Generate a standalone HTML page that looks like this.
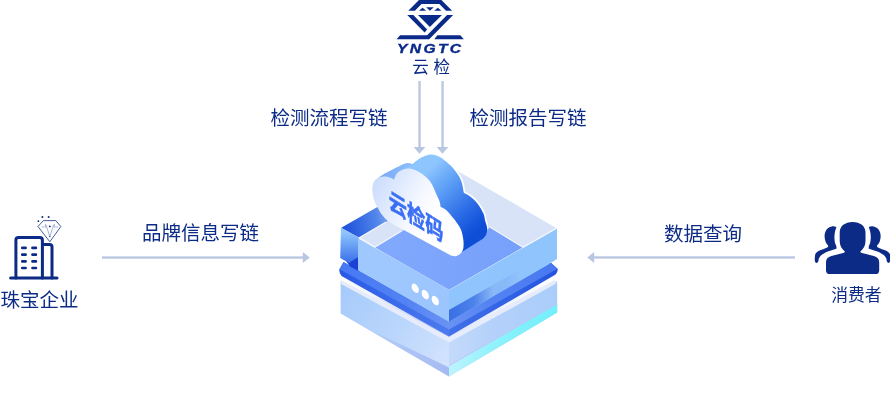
<!DOCTYPE html>
<html lang="zh-CN">
<head>
<meta charset="utf-8">
<title>云检码</title>
<style>
html,body{margin:0;padding:0;background:#fff;}
body{width:890px;height:412px;overflow:hidden;position:relative;font-family:"Liberation Sans","Noto Sans CJK SC",sans-serif;}
svg{position:absolute;left:0;top:0;display:block;will-change:transform;}
.t{fill:#0b2b86;font-family:"Liberation Sans","Noto Sans CJK SC",sans-serif;font-size:19.5px;}
</style>
</head>
<body>
<svg width="890" height="412" viewBox="0 0 890 412">
<defs>
<linearGradient id="gSide" gradientUnits="userSpaceOnUse" x1="430" y1="165" x2="485" y2="225">
<stop offset="0.03" stop-color="#8dc5ff"/><stop offset="0.2" stop-color="#70aef9"/><stop offset="0.33" stop-color="#5d9ff6"/><stop offset="0.5" stop-color="#4687ef"/><stop offset="0.72" stop-color="#2a6ae6"/><stop offset="0.9" stop-color="#1656dc"/><stop offset="1" stop-color="#0e4dd6"/>
</linearGradient>
<linearGradient id="gSideL" gradientUnits="userSpaceOnUse" x1="375" y1="183" x2="410" y2="165">
<stop offset="0" stop-color="#78a6f7"/><stop offset="1" stop-color="#8dbdfb"/>
</linearGradient>
<linearGradient id="gFace" gradientUnits="userSpaceOnUse" x1="372" y1="190" x2="455" y2="235">
<stop offset="0" stop-color="#cdddfc"/><stop offset="0.27" stop-color="#e3ecfe"/><stop offset="0.5" stop-color="#f5f8ff"/><stop offset="0.68" stop-color="#ffffff"/>
</linearGradient>
<linearGradient id="gCubeTop" gradientUnits="userSpaceOnUse" x1="342" y1="228" x2="392" y2="218">
<stop offset="0" stop-color="#1b4fda"/><stop offset="0.35" stop-color="#3569e3"/><stop offset="0.7" stop-color="#5386ea"/><stop offset="1" stop-color="#7ea9f3"/>
</linearGradient>
<linearGradient id="gCubeL" gradientUnits="userSpaceOnUse" x1="350" y1="232" x2="350" y2="262">
<stop offset="0" stop-color="#8fc6fe"/><stop offset="1" stop-color="#3c72ea"/>
</linearGradient>
<linearGradient id="gFloor" gradientUnits="userSpaceOnUse" x1="390" y1="245" x2="500" y2="255">
<stop offset="0" stop-color="#80a8fc"/><stop offset="1" stop-color="#78a1fb"/>
</linearGradient>
<linearGradient id="gUL" gradientUnits="userSpaceOnUse" x1="359" y1="250" x2="449" y2="310">
<stop offset="0" stop-color="#9fc9fe"/><stop offset="1" stop-color="#9bc5fd"/>
</linearGradient>
<linearGradient id="gUR" gradientUnits="userSpaceOnUse" x1="500" y1="250" x2="515" y2="280">
<stop offset="0" stop-color="#92c6fd"/><stop offset="0.6" stop-color="#8dc0fc"/><stop offset="1" stop-color="#6fa2f5"/>
</linearGradient>
<linearGradient id="gLL" gradientUnits="userSpaceOnUse" x1="341" y1="290" x2="449" y2="360">
<stop offset="0" stop-color="#a6cbfb"/><stop offset="0.5" stop-color="#b9d5fc"/><stop offset="1" stop-color="#d2e3fd"/>
</linearGradient>
<linearGradient id="gLLs" gradientUnits="userSpaceOnUse" x1="360" y1="0" x2="449" y2="0">
<stop offset="0" stop-color="#a8bff4" stop-opacity="0"/><stop offset="0.5" stop-color="#a8bff4" stop-opacity="0.8"/><stop offset="1" stop-color="#a6baf2"/>
</linearGradient>
<linearGradient id="gBand" gradientUnits="userSpaceOnUse" x1="449" y1="0" x2="520" y2="0">
<stop offset="0" stop-color="#3b6fe4"/><stop offset="0.35" stop-color="#4c82ea"/><stop offset="0.62" stop-color="#8ab8f6"/><stop offset="0.8" stop-color="#86b8f8"/><stop offset="1" stop-color="#90c4fd"/>
</linearGradient>
<linearGradient id="gCy" gradientUnits="userSpaceOnUse" x1="449" y1="0" x2="557" y2="0">
<stop offset="0" stop-color="#bdf4fe"/><stop offset="0.35" stop-color="#96f2fc"/><stop offset="0.7" stop-color="#7df0fb"/><stop offset="1" stop-color="#74effb"/>
</linearGradient>
<linearGradient id="gPlate" gradientUnits="userSpaceOnUse" x1="339" y1="0" x2="558" y2="0">
<stop offset="0" stop-color="#2857e6"/><stop offset="0.25" stop-color="#3b6bea"/><stop offset="0.5" stop-color="#4c7aee"/><stop offset="0.51" stop-color="#4270ea"/><stop offset="0.8" stop-color="#2f5fe3"/><stop offset="1" stop-color="#2452de"/>
</linearGradient>
<linearGradient id="gPlateT" gradientUnits="userSpaceOnUse" x1="339" y1="0" x2="558" y2="0">
<stop offset="0" stop-color="#4678f3"/><stop offset="0.3" stop-color="#5282f3"/><stop offset="0.5" stop-color="#6a92f3"/><stop offset="0.7" stop-color="#5282f2"/><stop offset="1" stop-color="#4878f0"/>
</linearGradient>
<linearGradient id="gShadow" gradientUnits="userSpaceOnUse" x1="341" y1="0" x2="557" y2="0">
<stop offset="0" stop-color="#ffffff"/><stop offset="0.12" stop-color="#f4f6fe"/><stop offset="0.4" stop-color="#c3cef5"/><stop offset="0.5" stop-color="#b8c5f3"/><stop offset="0.57" stop-color="#e0e6fa"/><stop offset="0.75" stop-color="#eff2fd"/><stop offset="1" stop-color="#ffffff"/>
</linearGradient>
<linearGradient id="gLR" gradientUnits="userSpaceOnUse" x1="449" y1="0" x2="557" y2="0">
<stop offset="0" stop-color="#c4dafb"/><stop offset="0.4" stop-color="#b4d1fa"/><stop offset="1" stop-color="#a9cdfa"/>
</linearGradient>
</defs>

<g fill="#b9c6e2">
<rect x="102" y="256.4" width="201.5" height="2.3"/><polygon points="302.8,252 309.8,257.5 302.8,263"/>
<rect x="594" y="256.3" width="201" height="2.3"/><polygon points="594.2,251.9 587.2,257.4 594.2,262.9"/>
<rect x="418.4" y="81" width="2.3" height="67"/><polygon points="413.6,147 425.4,147 419.5,153.8"/>
<rect x="441.4" y="81" width="2.3" height="67"/><polygon points="436.6,147 448.4,147 442.5,153.8"/>
</g>
<polygon fill="url(#gLL)" points="340.6,281.0 449.0,339.0 449.0,376.6 340.6,313.6"/>
<polygon fill="url(#gLR)" points="449.0,339.0 557.2,281.0 557.2,312.6 449.0,376.6"/>
<polygon fill="url(#gLLs)" points="360.0,324.8 449.0,367.6 449.0,376.6 360.0,325.0"/>
<polygon fill="#c0c4f4" points="449.0,365.2 557.2,303.2 557.2,305.0 449.0,367.0"/>
<polygon fill="url(#gCy)" points="449.0,366.2 557.2,304.2 557.2,312.6 449.0,376.6"/>
<polygon fill="#e6ecfb" points="341.2,279.8 449.0,336.4 554.6,279.8 556.2,283.6 449.0,342.6 340.6,283.8"/>
<polygon fill="url(#gShadow)" points="341.5,275.0 449.0,333.0 555.6,274.0 554.6,280.0 449.0,337.0 341.2,280.0"/>
<path fill="url(#gPlate)" d="M343.5,262 L449,321.6 L550,262 L557.6,268.8 Q558.2,271.5 555.6,274.5 L449,336.4 L341.5,276 Q338.8,272.5 339.4,269.2 Z"/>
<polygon fill="url(#gPlateT)" points="343.5,262.0 449.0,321.6 449.0,329.4 339.6,269.2"/>
<polygon fill="url(#gPlateT)" points="550.0,262.0 449.0,321.6 449.0,329.4 557.5,268.7"/>
<polygon fill="#1a42d4" points="346.0,261.0 358.5,255.0 358.5,271.0 350.0,266.5"/>
<polygon fill="url(#gCubeL)" points="341.0,227.8 359.0,237.6 359.0,256.5 349.0,263.0 340.2,258.0"/>
<polygon fill="url(#gUL)" points="358.0,238.3 449.0,289.8 449.0,321.8 358.0,270.0"/>
<polygon fill="#90c4fd" points="449.0,290.0 557.0,228.4 557.0,259.0 549.8,263.5 449.0,321.8"/>
<polygon fill="url(#gBand)" points="449.0,310.0 515.0,272.5 549.8,263.5 449.0,321.8"/>
<polygon fill="#d9e3f7" points="341.3,227.8 449.0,166.0 556.6,228.2 449.0,290.0"/>
<polygon fill="url(#gFloor)" points="375.0,247.6 401.5,231.4 449.0,204.0 489.0,226.5 523.0,247.3 449.0,289.8"/>
<polygon fill="url(#gCubeTop)" points="341.3,227.8 449.0,166.0 449.0,186.0 359.0,237.6"/>
<polyline fill="none" stroke="#f0f4fd" stroke-width="1.3" points="386.0,222.0 359.5,237.8 375.0,247.0 401.5,231.0"/>
<polyline fill="none" stroke="#f3f6fd" stroke-width="1.2" points="489.0,226.5 523.0,247.3 556.0,228.4"/>
<ellipse cx="0" cy="0" rx="3.6" ry="4.3" fill="#fff" transform="matrix(1,0.577,0,1,415.2,288.2)"/>
<ellipse cx="0" cy="0" rx="3.6" ry="4.3" fill="#fff" transform="matrix(1,0.577,0,1,425.3,294.6)"/>
<ellipse cx="0" cy="0" rx="3.6" ry="4.3" fill="#fff" transform="matrix(1,0.577,0,1,435.3,300.6)"/>
<path d="M373.3,183.8 C374.4,182.7 376.1,179.5 379.6,177.0 C383.1,174.5 389.7,171.1 394.1,168.8 C398.5,166.5 402.7,164.2 405.8,163.4 C408.9,162.6 411.5,163.9 412.6,164.0 C414.1,162.9 418.2,159.2 421.3,157.6 C424.4,156.0 427.9,154.6 431.0,154.5 C434.1,154.4 436.9,155.5 439.6,156.8 C442.3,158.2 444.9,160.5 447.3,162.6 C449.7,164.7 452.2,167.1 454.1,169.4 C456.1,171.7 457.7,173.9 459.0,176.2 C460.3,178.5 461.1,180.2 461.9,183.0 C462.7,185.8 463.5,191.2 463.8,192.8 C464.9,193.5 468.3,194.9 470.6,196.7 C472.9,198.5 475.3,200.7 477.4,203.4 C479.5,206.2 482.0,210.3 483.3,213.2 C484.6,216.1 484.6,218.6 485.2,221.0 C485.8,223.4 486.8,226.7 487.1,227.8" fill="none" stroke="#fff" stroke-width="3.4" stroke-linejoin="round" stroke-linecap="round"/>
<path d="M373.3,183.8 C374.4,182.7 376.1,179.5 379.6,177.0 C383.1,174.5 389.7,171.1 394.1,168.8 C398.5,166.5 402.7,164.2 405.8,163.4 C408.9,162.6 411.5,163.9 412.6,164.0 C414.1,162.9 418.2,159.2 421.3,157.6 C424.4,156.0 427.9,154.6 431.0,154.5 C434.1,154.4 436.9,155.5 439.6,156.8 C442.3,158.2 444.9,160.5 447.3,162.6 C449.7,164.7 452.2,167.1 454.1,169.4 C456.1,171.7 457.7,173.9 459.0,176.2 C460.3,178.5 461.1,180.2 461.9,183.0 C462.7,185.8 463.5,191.2 463.8,192.8 C464.9,193.5 468.3,194.9 470.6,196.7 C472.9,198.5 475.3,200.7 477.4,203.4 C479.5,206.2 482.0,210.3 483.3,213.2 C484.6,216.1 484.6,218.6 485.2,221.0 C485.8,223.4 486.9,225.5 487.1,227.8 C487.3,230.1 486.8,232.8 486.2,234.6 C485.6,236.4 483.8,237.8 483.3,238.4 L461,252.5 L440,225 L390,200 Z" fill="url(#gSide)"/>
<path d="M373.3,183.8 C374.4,182.7 376.1,179.5 379.6,177.0 C383.1,174.5 389.7,171.1 394.1,168.8 C398.5,166.5 402.7,164.2 405.8,163.4 C408.9,162.6 411.5,163.9 412.6,164.0 L398,173 L394,180 L380,178 Z" fill="url(#gSideL)"/>
<path d="M388.0,221.4 C387.1,220.5 384.3,217.6 382.8,215.8 C381.3,214.0 380.4,212.5 379.2,210.4 C378.0,208.3 376.5,205.7 375.5,203.4 C374.5,201.1 373.6,199.0 373.1,196.4 C372.6,193.8 372.1,190.2 372.4,187.6 C372.6,185.0 373.5,182.5 374.6,180.8 C375.7,179.1 377.4,178.3 379.0,177.6 C380.6,176.9 382.6,176.6 384.4,176.6 C386.2,176.6 388.4,177.1 390.0,177.6 C391.6,178.1 393.3,179.3 394.0,179.7 C394.5,178.6 395.4,174.9 397.0,173.2 C398.6,171.5 401.5,170.0 403.8,169.3 C406.1,168.6 408.0,168.3 410.6,168.8 C413.2,169.3 416.6,170.7 419.4,172.2 C422.1,173.7 425.0,175.9 427.1,178.0 C429.2,180.1 430.9,182.5 432.3,185.0 C433.7,187.5 434.5,190.1 435.7,192.8 C436.9,195.6 438.8,199.2 439.6,201.5 C440.4,203.8 440.4,205.9 440.5,206.8 C441.5,207.4 444.3,208.3 446.4,210.2 C448.5,212.1 451.5,215.9 453.2,218.0 C454.9,220.1 455.3,220.6 456.6,222.5 C457.9,224.4 459.9,226.9 461.0,229.7 C462.1,232.5 462.9,236.3 463.3,239.4 C463.7,242.5 463.7,245.9 463.3,248.2 C462.9,250.5 462.2,251.7 461.0,253.0 C459.8,254.3 457.7,255.8 456.0,256.2 C454.3,256.6 451.8,255.7 451.0,255.6 Z" fill="url(#gFace)"/>
<text transform="matrix(0.866,0.54,0,1.12,388.8,208)" font-family="'Liberation Sans','Noto Sans CJK SC',sans-serif" font-weight="bold" font-size="21" fill="#3a6ef5" stroke="#3a6ef5" stroke-width="0.5">云检码</text>
<g transform="translate(394,0) scale(0.10198)" fill="#0a2a8a">
<polygon points="140,105 245,0 465,0 570,105 510,105 445,40 270,40 205,105"/>
<polygon points="245,105 280,75 315,105"/><polygon points="315,70 390,70 352,105"/><polygon points="395,105 430,75 465,105"/>
<polygon points="235,148 470,148 352,265"/>
<polygon points="130,148 190,148 325,290 300,318"/>
<polygon points="520,148 580,148 345,385 25,385 60,345 325,345"/>
<polygon points="395,385 425,345 650,345 685,385"/>
</g>
<text x="430.3" y="52.9" text-anchor="middle" font-family="'Liberation Sans',sans-serif" font-weight="bold" font-style="italic" font-size="12.6" letter-spacing="1.9" fill="#0a2a8a" stroke="#0a2a8a" stroke-width="0.35" transform="translate(430.3,0) scale(1.24,1) translate(-430.3,0)">YNGTC</text>
<text class="t" x="412.3" y="72.8" style="font-size:16.6px">云 检</text>
<text class="t" x="270.5" y="125">检测流程写链</text>
<text class="t" x="469.4" y="125.2">检测报告写链</text>
<text class="t" x="142" y="240">品牌信息写链</text>
<text class="t" x="664" y="240.7">数据查询</text>
<text class="t" x="0.5" y="306.6">珠宝企业</text>
<text class="t" x="831.3" y="301.3" style="font-size:16.8px">消费者</text>
<g fill="none" stroke="#0b2b86" stroke-width="3" stroke-linecap="round" stroke-linejoin="round">
<path d="M10.6,278 H57"/>
<path d="M15.9,278 V240.2 Q15.9,237.6 18.5,237.6 H39.8 Q42.4,237.6 42.4,240.2 V278"/>
<path d="M42.4,244.6 H49.5 Q52,244.6 52,247 V278"/>
<path d="M22.3,247.9 H25.6 M32.5,247.9 H35.9" stroke-width="2.7"/>
<path d="M22.3,254.7 H25.6 M32.5,254.7 H35.9" stroke-width="2.7"/>
<path d="M22.3,261.4 H25.6 M32.5,261.4 H35.9" stroke-width="2.7"/>
<path d="M22.3,268 H25.6 M32.5,268 H35.9" stroke-width="2.7"/>
</g>
<g fill="none" stroke="#0b2b86" stroke-linejoin="round" stroke-linecap="round">
<path d="M43.8,220.6 H55.8 L60.8,226.6 L49.8,241.8 L38.2,226.8 Z" stroke-width="0.9" opacity="0.85"/>
<path d="M46.2,225.2 L49.8,236.8 L53.5,225.2" stroke-width="0.6" opacity="0.6"/>
<path d="M42.2,226.9 H44.2 M55.6,226.9 H57.6 M45.4,224.4 V227.4 M54.4,224.4 V227.4" stroke-width="0.6" opacity="0.55"/>
</g>
<g fill="#0b2b86"><circle cx="42.4" cy="217" r="1"/><circle cx="48.6" cy="217" r="1"/><circle cx="38.4" cy="221.2" r="0.9"/><circle cx="49.8" cy="226.4" r="0.9"/><circle cx="49.8" cy="236.6" r="0.6"/></g>
<g fill="#0b2b86">
<path d="M836.4,227.0 C835.6,226.9 833.4,226.2 831.9,226.4 C830.4,226.6 828.7,227.4 827.6,228.4 C826.5,229.4 825.7,230.9 825.2,232.3 C824.7,233.7 824.5,235.3 824.6,236.9 C824.7,238.5 825.1,240.5 825.7,242.0 C826.3,243.5 827.8,245.1 828.2,245.7 C828.1,246.0 828.4,246.7 827.5,247.3 C826.6,247.9 824.6,248.7 823.1,249.3 C821.6,249.9 819.8,250.3 818.5,251.0 C817.2,251.7 816.2,252.5 815.6,253.5 C815.0,254.5 815.0,255.7 814.9,257.0 C814.8,258.3 814.6,260.2 814.9,261.2 C815.2,262.2 816.0,262.9 816.6,262.9 C817.2,262.9 817.9,262.1 818.3,261.4 C818.7,260.7 818.4,259.5 818.9,258.5 C819.4,257.5 820.0,256.2 821.2,255.2 C822.4,254.1 824.4,253.0 826.0,252.2 C827.6,251.4 829.3,251.0 831.0,250.4 C832.7,249.8 835.5,249.1 836.4,248.8 C836.4,248.4 836.6,247.4 836.4,246.4 C836.2,245.4 835.3,244.4 835.0,242.8 C834.7,241.2 834.4,238.7 834.4,236.9 C834.4,235.1 834.7,233.5 835.0,231.8 C835.3,230.2 836.2,227.8 836.4,227.0 Z"/>
<path d="M868.8,227.0 C869.6,226.9 871.8,226.2 873.3,226.4 C874.8,226.6 876.5,227.4 877.6,228.4 C878.7,229.4 879.5,230.9 880.0,232.3 C880.5,233.7 880.7,235.3 880.6,236.9 C880.5,238.5 880.1,240.5 879.5,242.0 C878.9,243.5 877.4,245.1 877.0,245.7 C877.1,246.0 876.9,246.7 877.7,247.3 C878.6,247.9 880.6,248.7 882.1,249.3 C883.6,249.9 885.5,250.3 886.7,251.0 C888.0,251.7 889.0,252.5 889.6,253.5 C890.2,254.5 890.2,255.7 890.3,257.0 C890.4,258.3 890.6,260.2 890.3,261.2 C890.0,262.2 889.2,262.9 888.6,262.9 C888.0,262.9 887.3,262.1 886.9,261.4 C886.5,260.7 886.8,259.5 886.3,258.5 C885.8,257.5 885.2,256.2 884.0,255.2 C882.8,254.1 880.8,253.0 879.2,252.2 C877.6,251.4 875.9,251.0 874.2,250.4 C872.5,249.8 869.7,249.1 868.8,248.8 C868.8,248.4 868.6,247.4 868.8,246.4 C869.0,245.4 869.9,244.4 870.2,242.8 C870.5,241.2 870.8,238.7 870.8,236.9 C870.8,235.1 870.5,233.5 870.2,231.8 C869.9,230.2 869.0,227.8 868.8,227.0 Z"/>
<path d="M852.6,222.1 C860.2,222.1 865.5,226.2 865.5,232.6 V241 C865.5,245.6 863.4,249 860.6,251.2 C860,252 860.6,252.6 862,253 L873.8,256 C877.4,257 879.2,259 879.2,262.3 V270.4 C879.2,272.8 877.8,274.1 875.4,274.1 H829.8 C827.4,274.1 826,272.8 826,270.4 V262.3 C826,259 827.8,257 831.4,256 L843.2,253 C844.6,252.6 845.2,252 844.6,251.2 C841.8,249 839.7,245.6 839.7,241 V232.6 C839.7,226.2 845,222.1 852.6,222.1 Z"/>
</g>
</svg>
</body>
</html>
